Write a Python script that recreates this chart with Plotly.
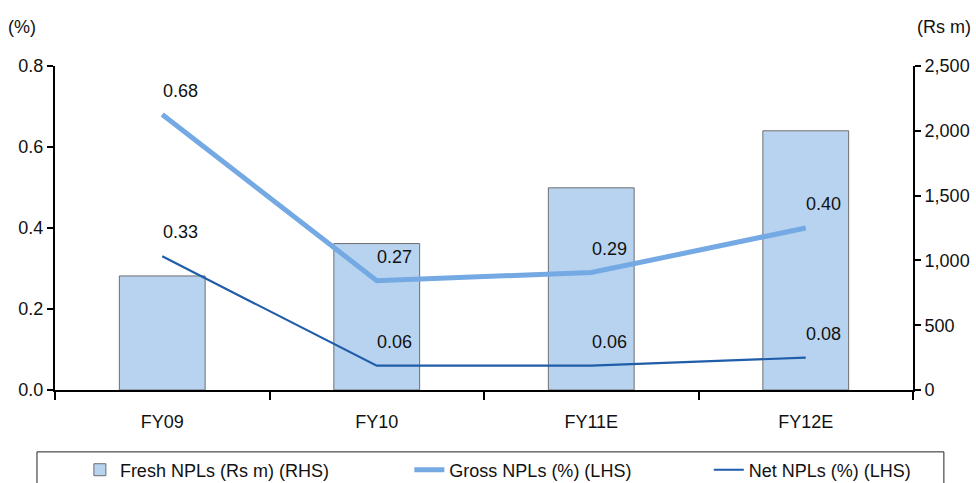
import plotly.graph_objects as go

# Data
years = ["FY09", "FY10", "FY11E", "FY12E"]
fresh_npls = [880, 1130, 1560, 2000]      # Rs m, right axis
gross_npls = [0.68, 0.27, 0.29, 0.40]     # %, left axis
net_npls = [0.33, 0.06, 0.06, 0.08]       # %, left axis

left_ticks = [0.0, 0.2, 0.4, 0.6, 0.8]
right_ticks = [0, 500, 1000, 1500, 2000, 2500]

FONT = "Liberation Sans Narrow, Arial Narrow, Liberation Sans, sans-serif"
BAR_FILL = "#B8D3F0"
BAR_EDGE = "#6E6E6E"
GROSS_COLOR = "#74A9E3"
NET_COLOR = "#1F5DAA"
TXT = "#111111"

fig = go.Figure()

# Bars live on the primary (right-hand, Rs m) axis so the % lines draw on top
fig.add_trace(go.Bar(
    x=years, y=fresh_npls, name="Fresh NPLs (Rs m) (RHS)", yaxis="y",
    width=0.4, marker=dict(color=BAR_FILL, line=dict(color=BAR_EDGE, width=1)),
    legend="legend",
))
fig.add_trace(go.Scatter(
    x=years, y=gross_npls, name="Gross NPLs (%) (LHS)", mode="lines", yaxis="y2",
    line=dict(color=GROSS_COLOR, width=5), legend="legend2",
))
fig.add_trace(go.Scatter(
    x=years, y=net_npls, name="Net NPLs (%) (LHS)", mode="lines", yaxis="y2",
    line=dict(color=NET_COLOR, width=2.2), legend="legend3",
))

# Value labels above-right of each line point
for series in (gross_npls, net_npls):
    for yr, v in zip(years, series):
        fig.add_annotation(
            x=yr, y=v, xref="x", yref="y2", text=f"{v:.2f}",
            showarrow=False, xshift=18, yshift=24,
            font=dict(family=FONT, size=18, color=TXT),
        )

# Axis unit captions
fig.add_annotation(x=-0.038, y=1.12, xref="paper", yref="paper", text="(%)",
                   showarrow=False, xanchor="center", yanchor="middle",
                   font=dict(family=FONT, size=18, color=TXT))
fig.add_annotation(x=1.036, y=1.12, xref="paper", yref="paper", text="(Rs m)",
                   showarrow=False, xanchor="center", yanchor="middle",
                   font=dict(family=FONT, size=18, color=TXT))

# Legend frame
fig.add_shape(type="rect", xref="paper", yref="paper",
              x0=-0.021, x1=1.036, y0=-0.191, y1=-0.33,
              line=dict(color="#222222", width=1), fillcolor="rgba(0,0,0,0)")

legend_common = dict(orientation="h", y=-0.247, xanchor="left", yanchor="middle",
                     font=dict(family=FONT, size=18, color=TXT),
                     bgcolor="rgba(0,0,0,0)", borderwidth=0)

fig.update_layout(
    width=976, height=483,
    margin=dict(l=55, r=63, t=66, b=93, autoexpand=False),
    paper_bgcolor="white", plot_bgcolor="white",
    font=dict(family=FONT, size=18, color=TXT),
    showlegend=True,
    legend=dict(x=0.029, **legend_common),
    legend2=dict(x=0.413, **legend_common),
    legend3=dict(x=0.762, **legend_common),
    xaxis=dict(showline=True, linecolor="black", linewidth=2,
               ticks="outside", tickson="boundaries", ticklen=8, tickwidth=2,
               tickcolor="black", showgrid=False, zeroline=False,
               ticklabelstandoff=14, tickfont=dict(size=18)),
    yaxis=dict(range=[0, 2500], tickvals=right_ticks, tickformat=",d",
               side="right",
               showline=True, linecolor="black", linewidth=2,
               ticks="outside", ticklen=6, tickwidth=2, tickcolor="black",
               showgrid=False, zeroline=False, tickfont=dict(size=18)),
    yaxis2=dict(range=[0, 0.8], tickvals=left_ticks, tickformat=".1f",
                overlaying="y", side="left",
                showline=True, linecolor="black", linewidth=2,
                ticks="outside", ticklen=6, tickwidth=2, tickcolor="black",
                showgrid=False, zeroline=False, tickfont=dict(size=18)),
)

fig.write_html("out.html")
